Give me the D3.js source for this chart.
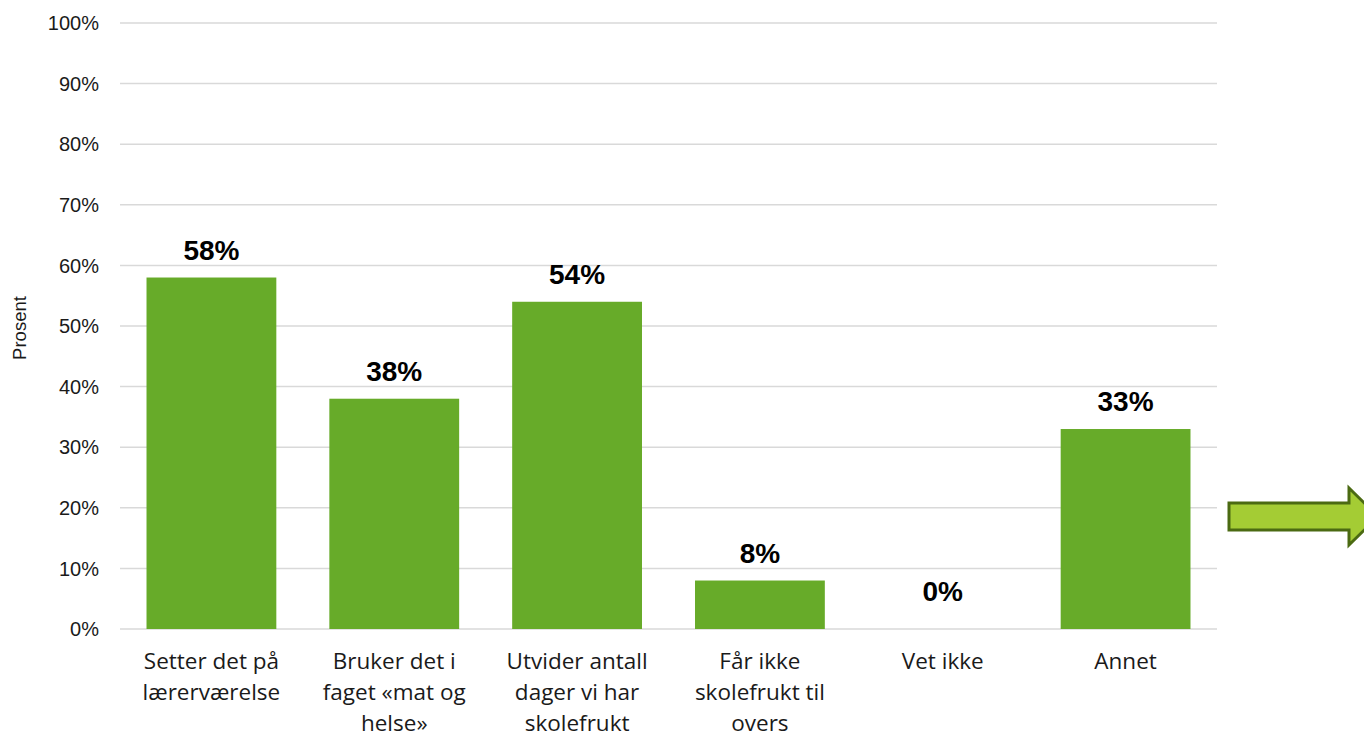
<!DOCTYPE html>
<html lang="no">
<head>
<meta charset="utf-8"/>
<title>Skolefrukt</title>
<script src="https://d3js.org/d3.v7.min.js"></script>
<style>
  body { margin: 0; background: #fff; }
  svg { display: block; }
</style>
</head>
<body>
<script>
var categories = [
  ["Setter det på", "lærerværelse"],
  ["Bruker det i", "faget «mat og", "helse»"],
  ["Utvider antall", "dager vi har", "skolefrukt"],
  ["Får ikke", "skolefrukt til", "overs"],
  ["Vet ikke"],
  ["Annet"]
];
var values = [58, 38, 54, 8, 0, 33];
var ticks = [0, 10, 20, 30, 40, 50, 60, 70, 80, 90, 100];

var width = 1364, height = 734;
var plotLeft = 120, plotRight = 1217, plotTop = 23, plotBottom = 629;

var svg = d3.select("body").append("svg")
    .attr("width", width)
    .attr("height", height);

var x = d3.scaleBand()
    .domain(d3.range(categories.length))
    .range([plotLeft, plotRight])
    .paddingInner(0.29)
    .paddingOuter(0.145);

var y = d3.scaleLinear().domain([0, 100]).range([plotBottom, plotTop]);

// gridlines
svg.append("g").selectAll("line")
    .data(ticks)
    .enter().append("line")
    .attr("x1", plotLeft).attr("x2", plotRight)
    .attr("y1", function(d) { return y(d); })
    .attr("y2", function(d) { return y(d); })
    .attr("stroke", "#d9d9d9")
    .attr("stroke-width", 1.5);

// y tick labels
svg.append("g").selectAll("text")
    .data(ticks)
    .enter().append("text")
    .attr("x", 99)
    .attr("y", function(d) { return y(d); })
    .attr("dy", "0.36em")
    .attr("text-anchor", "end")
    .style("font-family", "'Liberation Sans', Arial, sans-serif")
    .style("font-size", "20px")
    .attr("fill", "#1a1a1a")
    .text(function(d) { return d + "%"; });

svg.append("text")
    .attr("transform", "translate(26," + ((plotTop + plotBottom) / 2 + 2) + ") rotate(-90)")
    .attr("text-anchor", "middle")
    .style("font-family", "'Liberation Sans', Arial, sans-serif")
    .style("font-size", "18.5px")
    .attr("fill", "#1a1a1a")
    .text("Prosent");

// bars
svg.append("g").selectAll("rect")
    .data(values)
    .enter().append("rect")
    .attr("x", function(d, i) { return x(i); })
    .attr("width", x.bandwidth())
    .attr("y", function(d) { return y(d); })
    .attr("height", function(d) { return plotBottom - y(d); })
    .attr("fill", "#67ab29");

// data labels (an empty bar gets its label a bit higher, like excel does)
svg.append("g").selectAll("text")
    .data(values)
    .enter().append("text")
    .attr("x", function(d, i) { return x(i) + x.bandwidth() / 2; })
    .attr("y", function(d) { return y(d) - (d === 0 ? 28 : 18); })
    .attr("text-anchor", "middle")
    .style("font-family", "'Liberation Sans', Arial, sans-serif")
    .style("font-size", "28px")
    .style("font-weight", "bold")
    .attr("fill", "#000")
    .text(function(d) { return d + "%"; });

// category labels
var cat = svg.append("g").selectAll("text")
    .data(categories)
    .enter().append("text")
    .attr("x", function(d, i) { return x(i) + x.bandwidth() / 2; })
    .attr("y", 669)
    .attr("text-anchor", "middle")
    .style("font-family", "'Open Sans', sans-serif")
    .style("font-size", "22.5px")
    .attr("fill", "#1a1a1a");

cat.selectAll("tspan")
    .data(function(d) { return d; })
    .enter().append("tspan")
    .attr("x", function() { return d3.select(this.parentNode).attr("x"); })
    .attr("dy", function(d, i) { return i === 0 ? 0 : 31; })
    .text(function(d) { return d; });

// arrow on the right
var arrow = d3.path();
arrow.moveTo(1229, 503);
arrow.lineTo(1349, 503);
arrow.lineTo(1349, 488);
arrow.lineTo(1378, 516.5);
arrow.lineTo(1349, 545);
arrow.lineTo(1349, 530);
arrow.lineTo(1229, 530);
arrow.closePath();
svg.append("path")
    .attr("d", arrow.toString())
    .attr("fill", "#a4cc34")
    .attr("stroke", "#4b6a12")
    .attr("stroke-width", 3)
    .attr("stroke-linejoin", "miter");
</script>
</body>
</html>
